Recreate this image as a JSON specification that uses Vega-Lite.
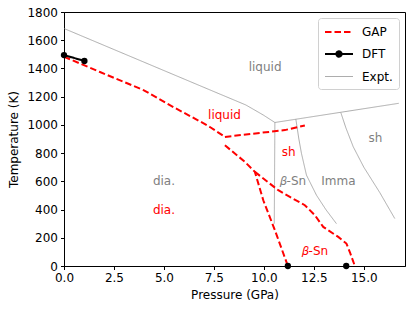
{
  "$schema": "https://vega.github.io/schema/vega-lite/v6.json",
  "width": 341,
  "height": 254,
  "autosize": "none",
  "padding": {"left": 64, "top": 12, "right": 11, "bottom": 43},
  "datasets": {
    "lines": [
      {"s": "Expt.", "seg": "e1", "i": 0, "P": 0, "T": 1683},
      {"s": "Expt.", "seg": "e1", "i": 1, "P": 7.3, "T": 1248},
      {"s": "Expt.", "seg": "e1", "i": 2, "P": 9.1, "T": 1141},
      {"s": "Expt.", "seg": "e1", "i": 3, "P": 9.97, "T": 1070},
      {"s": "Expt.", "seg": "e1", "i": 4, "P": 10.55, "T": 1017},
      {"s": "Expt.", "seg": "e2", "i": 0, "P": 10.55, "T": 1017},
      {"s": "Expt.", "seg": "e2", "i": 1, "P": 16.75, "T": 1153},
      {"s": "Expt.", "seg": "e3", "i": 0, "P": 10.55, "T": 1017},
      {"s": "Expt.", "seg": "e3", "i": 1, "P": 10.52, "T": 300},
      {"s": "Expt.", "seg": "e4", "i": 0, "P": 11.6, "T": 1040},
      {"s": "Expt.", "seg": "e4", "i": 1, "P": 11.75, "T": 900},
      {"s": "Expt.", "seg": "e4", "i": 2, "P": 11.88, "T": 798},
      {"s": "Expt.", "seg": "e4", "i": 3, "P": 12.13, "T": 644},
      {"s": "Expt.", "seg": "e4", "i": 4, "P": 12.63, "T": 502},
      {"s": "Expt.", "seg": "e4", "i": 5, "P": 13.1, "T": 400},
      {"s": "Expt.", "seg": "e4", "i": 6, "P": 13.63, "T": 300},
      {"s": "Expt.", "seg": "e5", "i": 0, "P": 13.85, "T": 1087},
      {"s": "Expt.", "seg": "e5", "i": 1, "P": 14.1, "T": 980},
      {"s": "Expt.", "seg": "e5", "i": 2, "P": 14.47, "T": 845},
      {"s": "Expt.", "seg": "e5", "i": 3, "P": 15.0, "T": 700},
      {"s": "Expt.", "seg": "e5", "i": 4, "P": 15.8, "T": 520},
      {"s": "Expt.", "seg": "e5", "i": 5, "P": 16.55, "T": 336},
      {"s": "GAP", "seg": "g1", "i": 0, "P": 0, "T": 1483},
      {"s": "GAP", "seg": "g1", "i": 1, "P": 1.8, "T": 1375},
      {"s": "GAP", "seg": "g1", "i": 2, "P": 4.0, "T": 1245},
      {"s": "GAP", "seg": "g1", "i": 3, "P": 5.55, "T": 1120},
      {"s": "GAP", "seg": "g1", "i": 4, "P": 6.8, "T": 1025},
      {"s": "GAP", "seg": "g1", "i": 5, "P": 7.3, "T": 985},
      {"s": "GAP", "seg": "g1", "i": 6, "P": 8.05, "T": 915},
      {"s": "GAP", "seg": "g2", "i": 0, "P": 8.05, "T": 915},
      {"s": "GAP", "seg": "g2", "i": 1, "P": 11.05, "T": 963},
      {"s": "GAP", "seg": "g2", "i": 2, "P": 12.05, "T": 996},
      {"s": "GAP", "seg": "g3", "i": 0, "P": 8.05, "T": 856},
      {"s": "GAP", "seg": "g3", "i": 1, "P": 9.05, "T": 738},
      {"s": "GAP", "seg": "g3", "i": 2, "P": 9.55, "T": 667},
      {"s": "GAP", "seg": "g3", "i": 3, "P": 9.97, "T": 466},
      {"s": "GAP", "seg": "g3", "i": 4, "P": 10.55, "T": 254},
      {"s": "GAP", "seg": "g3", "i": 5, "P": 11.2, "T": 0},
      {"s": "GAP", "seg": "g4", "i": 0, "P": 9.55, "T": 667},
      {"s": "GAP", "seg": "g4", "i": 1, "P": 10.72, "T": 537},
      {"s": "GAP", "seg": "g4", "i": 2, "P": 11.3, "T": 490},
      {"s": "GAP", "seg": "g4", "i": 3, "P": 12.05, "T": 431},
      {"s": "GAP", "seg": "g4", "i": 4, "P": 12.55, "T": 360},
      {"s": "GAP", "seg": "g4", "i": 5, "P": 12.97, "T": 277},
      {"s": "GAP", "seg": "g4", "i": 6, "P": 13.72, "T": 206},
      {"s": "GAP", "seg": "g4", "i": 7, "P": 14.13, "T": 159},
      {"s": "GAP", "seg": "g4", "i": 8, "P": 14.3, "T": 99},
      {"s": "GAP", "seg": "g4", "i": 9, "P": 14.55, "T": 0},
      {"s": "DFT", "seg": "d1", "i": 0, "P": 0, "T": 1495},
      {"s": "DFT", "seg": "d1", "i": 1, "P": 1.02, "T": 1453}
    ],
    "dots": [
      {"P": 0, "T": 1495},
      {"P": 1.02, "T": 1453},
      {"P": 11.2, "T": 0},
      {"P": 14.12, "T": 0}
    ],
    "labels": [
      {"src": "Expt.", "label": "liquid", "P": 10.06, "T": 1410},
      {"src": "Expt.", "label": "sh", "P": 15.58, "T": 906},
      {"src": "Expt.", "label": "dia.", "P": 5.0, "T": 600},
      {"src": "Expt.", "label": "𝛽-Sn", "P": 11.45, "T": 600},
      {"src": "Expt.", "label": "Imma", "P": 13.73, "T": 600},
      {"src": "GAP", "label": "liquid", "P": 8.03, "T": 1068},
      {"src": "GAP", "label": "sh", "P": 11.24, "T": 807},
      {"src": "GAP", "label": "dia.", "P": 5.0, "T": 400},
      {"src": "GAP", "label": "𝛽-Sn", "P": 12.55, "T": 105}
    ]
  },
  "encoding": {
    "x": {
      "field": "P", "type": "quantitative",
      "scale": {"domain": [0, 17.06], "nice": false, "zero": false},
      "axis": {"title": "Pressure (GPa)", "values": [0, 2.5, 5, 7.5, 10, 12.5, 15], "format": ".1f"}
    },
    "y": {
      "field": "T", "type": "quantitative",
      "scale": {"domain": [0, 1800], "nice": false},
      "axis": {"title": "Temperature (K)", "values": [0, 200, 400, 600, 800, 1000, 1200, 1400, 1600, 1800], "format": "d"}
    }
  },
  "layer": [
    {
      "data": {"name": "lines"},
      "mark": {"type": "line", "clip": false},
      "encoding": {
        "color": {
          "field": "s", "type": "nominal", "title": null,
          "scale": {"domain": ["GAP", "DFT", "Expt."], "range": ["#ff0000", "#000000", "#8a8a8a"]},
          "legend": {
            "orient": "top-right", "offset": 6,
            "fillColor": "white", "strokeColor": "#d0d0d0", "cornerRadius": 3,
            "padding": 6, "rowPadding": 8,
            "symbolSize": 196, "labelOffset": 15, "symbolOffset": 7,
            "labelFontSize": 12, "labelFont": "DejaVu Sans", "labelColor": "black",
            "encode": {
              "symbols": {
                "update": {
                  "shape": {"signal": "datum.value === 'DFT' ? 'M-2,0L2,0M0.38,0A0.38,0.38,0,1,1,-0.38,0A0.38,0.38,0,1,1,0.38,0Z' : 'M-2,0L2,0'"},
                  "fill": {"signal": "datum.value === 'DFT' ? 'black' : 'transparent'"}
                }
              }
            }
          }
        },
        "strokeDash": {
          "field": "s", "type": "nominal", "title": null,
          "scale": {"domain": ["GAP", "DFT", "Expt."], "range": [[6.5, 3], [1, 0], [1, 0]]}
        },
        "strokeWidth": {
          "field": "s", "type": "nominal", "title": null,
          "scale": {"type": "ordinal", "domain": ["GAP", "DFT", "Expt."], "range": [2, 2, 0.7]}
        },
        "detail": {"field": "seg"},
        "order": {"field": "i", "type": "quantitative"}
      }
    },
    {
      "data": {"name": "dots"},
      "mark": {"type": "point", "filled": true, "color": "black", "size": 40, "opacity": 1, "clip": false}
    },
    {
      "data": {"name": "labels"},
      "transform": [{"filter": "datum.src === 'Expt.'"}],
      "mark": {"type": "text", "color": "#808080", "fontSize": 12, "font": "DejaVu Sans", "align": "center", "baseline": "middle"},
      "encoding": {"text": {"field": "label"}}
    },
    {
      "data": {"name": "labels"},
      "transform": [{"filter": "datum.src === 'GAP'"}],
      "mark": {"type": "text", "color": "#ff0000", "fontSize": 12, "font": "DejaVu Sans", "align": "center", "baseline": "middle"},
      "encoding": {"text": {"field": "label"}}
    }
  ],
  "config": {
    "font": "DejaVu Sans",
    "view": {"stroke": "black", "strokeWidth": 1},
    "axis": {
      "grid": false, "domainColor": "black", "tickColor": "black", "tickSize": 3.5,
      "labelColor": "black", "labelFontSize": 12, "labelFont": "DejaVu Sans", "labelPadding": 3,
      "titleFontSize": 12, "titleFont": "DejaVu Sans", "titleFontWeight": "normal", "titleColor": "black"
    },
    "axisX": {"titlePadding": 6, "labelFlush": false},
    "axisY": {"titlePadding": 6, "labelFlush": false}
  }
}
